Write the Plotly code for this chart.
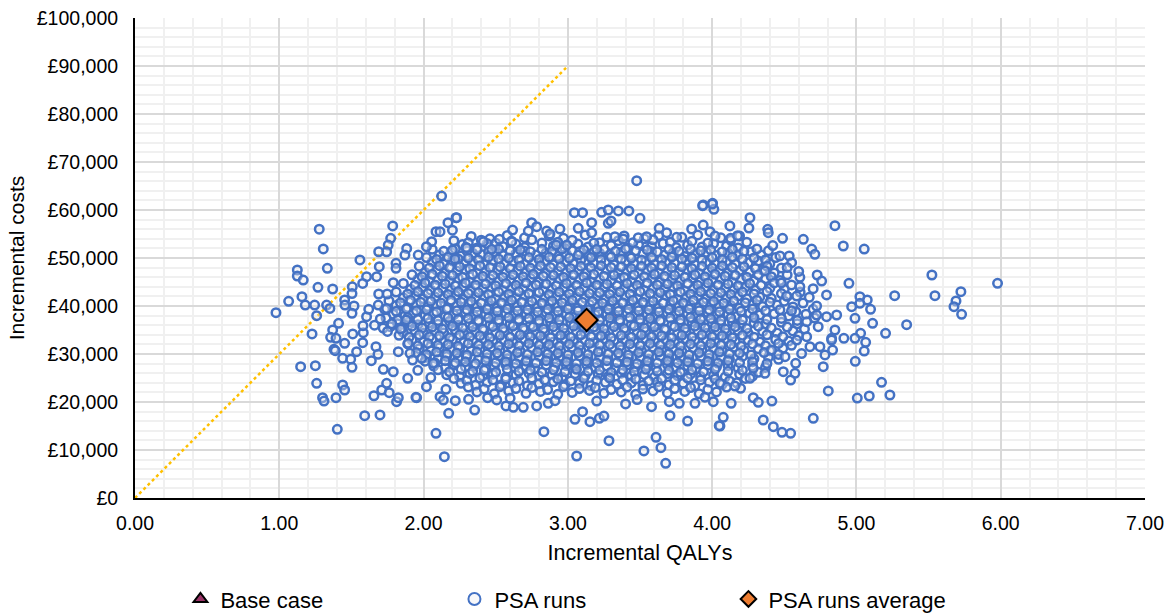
import plotly.graph_objects as go

# ---------------- data ----------------
base_case_qaly = [3.31]
base_case_cost = [38000]

psa_avg_qaly = [3.13]
psa_avg_cost = [37100]

wtp_qaly = [0.0, 3.0]
wtp_cost = [0, 90000]

x_ticks = [0, 1, 2, 3, 4, 5, 6, 7]
x_tick_labels = ["0.00", "1.00", "2.00", "3.00", "4.00", "5.00", "6.00", "7.00"]
y_ticks = [0, 10000, 20000, 30000, 40000, 50000, 60000, 70000, 80000, 90000, 100000]
y_tick_labels = ["£0", "£10,000", "£20,000", "£30,000", "£40,000", "£50,000",
                 "£60,000", "£70,000", "£80,000", "£90,000", "£100,000"]

# dense centre of the PSA cloud (QALY, cost) pairs
psa_core = [
    (2.33,54500),(2.46,54000),(2.58,54700),(2.70,54200),(2.87,54600),(2.97,54100),(3.12,54800),(3.27,54300),
    (3.39,54600),(3.53,54000),(3.63,54700),(3.79,54300),(3.90,54800),(4.06,54200),(4.19,54600),
    (2.27,52800),(2.37,52100),(2.44,53000),(2.55,52400),(2.64,52900),(2.70,52200),(2.82,53100),(2.90,52500),
    (2.98,52000),(3.07,52900),(3.14,52300),(3.22,53200),(3.30,52600),(3.42,52100),(3.49,52800),(3.58,52400),
    (3.66,53000),(3.75,52200),(3.83,52700),(3.93,52300),(4.01,53000),(4.10,52500),(4.18,52100),
    (2.11,50600),(2.19,51200),(2.26,50400),(2.34,51000),(2.41,50700),(2.49,51300),(2.55,50500),(2.64,50900),
    (2.70,51400),(2.78,50600),(2.85,51100),(2.93,50300),(2.99,50800),(3.08,51300),(3.14,50500),(3.22,51000),
    (3.29,50700),(3.37,51200),(3.43,50400),(3.52,50900),(3.58,51300),(3.67,50600),(3.73,51100),(3.81,50300),
    (3.88,50800),(3.96,51200),(4.03,50500),(4.11,51000),(4.18,50700),(4.27,51300),(4.34,50600),
    (2.06,49200),(2.14,48700),(2.20,49400),(2.28,48900),(2.34,49100),(2.42,48600),(2.48,49500),(2.56,48800),
    (2.62,49300),(2.70,48700),(2.76,49000),(2.84,49400),(2.90,48600),(2.98,49200),(3.04,48800),(3.12,49500),
    (3.18,48900),(3.26,49100),(3.32,48600),(3.40,49300),(3.46,48800),(3.54,49400),(3.60,48700),(3.68,49200),
    (3.74,48900),(3.82,49500),(3.88,48600),(3.96,49100),(4.02,48800),(4.10,49300),(4.16,48700),(4.25,49000),
    (4.32,49400),(4.40,48800),
    (2.01,47000),(2.09,47500),(2.15,46900),(2.23,47300),(2.29,47600),(2.37,46800),(2.43,47200),(2.51,47500),
    (2.57,46900),(2.65,47400),(2.71,47000),(2.79,47600),(2.85,46800),(2.93,47300),(2.99,47000),(3.07,47500),
    (3.13,46900),(3.21,47200),(3.27,47600),(3.35,46800),(3.41,47400),(3.49,47000),(3.55,47500),(3.63,46900),
    (3.69,47300),(3.77,47000),(3.83,47600),(3.91,46800),(3.97,47200),(4.05,47500),(4.11,46900),(4.19,47400),
    (4.26,47100),(4.35,47500),(4.43,46900),
    (1.96,45600),(2.04,45100),(2.10,45500),(2.18,45200),(2.24,45800),(2.32,45000),(2.38,45400),(2.46,45700),
    (2.52,45100),(2.60,45500),(2.66,45300),(2.74,45800),(2.80,45000),(2.88,45400),(2.94,45700),(3.02,45200),
    (3.08,45600),(3.16,45000),(3.22,45500),(3.30,45300),(3.36,45800),(3.44,45100),(3.50,45400),(3.58,45700),
    (3.64,45000),(3.72,45500),(3.78,45200),(3.86,45800),(3.92,45100),(4.00,45400),(4.06,45600),(4.14,45000),
    (4.20,45500),(4.29,45200),(4.37,45700),(4.47,45300),
    (1.91,43500),(1.99,43900),(2.05,43300),(2.13,43700),(2.19,43400),(2.27,44000),(2.33,43200),(2.41,43600),
    (2.47,43900),(2.55,43300),(2.61,43700),(2.69,43500),(2.75,44000),(2.83,43200),(2.89,43600),(2.97,43800),
    (3.03,43300),(3.11,43700),(3.17,43400),(3.25,43900),(3.31,43200),(3.39,43600),(3.45,43800),(3.53,43300),
    (3.59,43700),(3.67,43500),(3.73,44000),(3.81,43200),(3.87,43600),(3.95,43900),(4.01,43300),(4.09,43700),
    (4.15,43400),(4.23,43900),(4.30,43300),(4.40,43700),(4.50,43500),
    (1.86,41700),(1.94,42100),(2.00,41500),(2.08,41900),(2.14,41600),(2.22,42200),(2.28,41400),(2.36,41800),
    (2.42,42100),(2.50,41500),(2.56,41900),(2.64,41700),(2.70,42200),(2.78,41400),(2.84,41800),(2.92,42000),
    (2.98,41500),(3.06,41900),(3.12,41600),(3.20,42100),(3.26,41400),(3.34,41800),(3.40,42000),(3.48,41500),
    (3.54,41900),(3.62,41700),(3.68,42200),(3.76,41400),(3.82,41800),(3.90,42100),(3.96,41500),(4.04,41900),
    (4.10,41600),(4.18,42100),(4.24,41500),(4.33,41900),(4.41,41600),(4.52,42000),
    (1.81,40100),(1.89,39700),(1.95,40300),(2.03,39900),(2.09,40200),(2.17,39600),(2.23,40000),(2.31,40400),
    (2.37,39800),(2.45,40100),(2.51,39600),(2.59,40300),(2.65,39900),(2.73,40200),(2.79,39700),(2.87,40400),
    (2.93,39800),(3.01,40100),(3.07,39600),(3.15,40300),(3.21,39900),(3.29,40200),(3.35,39700),(3.43,40400),
    (3.49,39800),(3.57,40100),(3.63,39600),(3.71,40300),(3.77,39900),(3.85,40200),(3.91,39700),(3.99,40400),
    (4.05,39800),(4.13,40100),(4.19,39600),(4.28,40300),(4.35,39900),(4.45,40200),(4.56,39800),
    (1.79,38300),(1.87,37900),(1.93,38500),(2.01,38000),(2.07,38400),(2.15,37800),(2.21,38200),(2.29,38600),
    (2.35,37900),(2.43,38300),(2.49,37800),(2.57,38500),(2.63,38100),(2.71,38400),(2.77,37900),(2.85,38600),
    (2.91,38000),(2.99,38300),(3.05,37800),(3.13,38500),(3.19,38100),(3.27,38400),(3.33,37900),(3.41,38600),
    (3.47,38000),(3.55,38300),(3.61,37800),(3.69,38500),(3.75,38100),(3.83,38400),(3.89,37900),(3.97,38600),
    (4.03,38000),(4.11,38300),(4.17,37800),(4.26,38500),(4.33,38100),(4.43,38400),(4.53,37900),(4.65,38300),
    (1.82,36300),(1.90,36700),(1.96,36100),(2.04,36500),(2.10,36200),(2.18,36800),(2.24,36000),(2.32,36400),
    (2.38,36700),(2.46,36100),(2.52,36500),(2.60,36300),(2.66,36800),(2.74,36000),(2.80,36400),(2.88,36600),
    (2.94,36100),(3.02,36500),(3.08,36200),(3.16,36700),(3.22,36000),(3.30,36400),(3.36,36600),(3.44,36100),
    (3.50,36500),(3.58,36300),(3.64,36800),(3.72,36000),(3.78,36400),(3.86,36700),(3.92,36100),(4.00,36500),
    (4.06,36200),(4.14,36700),(4.20,36100),(4.29,36500),(4.37,36200),(4.48,36600),(4.59,36300),
    (1.86,34500),(1.94,34900),(2.00,34300),(2.08,34700),(2.14,34400),(2.22,35000),(2.28,34200),(2.36,34600),
    (2.42,34900),(2.50,34300),(2.56,34700),(2.64,34500),(2.70,35000),(2.78,34200),(2.84,34600),(2.92,34800),
    (2.98,34300),(3.06,34700),(3.12,34400),(3.20,34900),(3.26,34200),(3.34,34600),(3.40,34800),(3.48,34300),
    (3.54,34700),(3.62,34500),(3.68,35000),(3.76,34200),(3.82,34600),(3.90,34900),(3.96,34300),(4.04,34700),
    (4.10,34400),(4.18,34900),(4.25,34300),(4.35,34700),(4.45,34400),(4.56,34800),
    (1.92,32900),(2.00,32500),(2.06,33100),(2.14,32700),(2.20,33000),(2.28,32400),(2.34,32800),(2.42,33200),
    (2.48,32600),(2.56,32900),(2.62,32400),(2.70,33100),(2.76,32700),(2.84,33000),(2.90,32500),(2.98,33200),
    (3.04,32600),(3.12,32900),(3.18,32400),(3.26,33100),(3.32,32700),(3.40,33000),(3.46,32500),(3.54,33200),
    (3.60,32600),(3.68,32900),(3.74,32400),(3.82,33100),(3.88,32700),(3.96,33000),(4.02,32500),(4.10,33200),
    (4.16,32600),(4.25,32900),(4.33,32500),(4.44,33000),(4.53,32700),
    (1.97,31100),(2.05,30700),(2.11,31300),(2.19,30900),(2.25,31200),(2.33,30600),(2.39,31000),(2.47,31400),
    (2.53,30800),(2.61,31100),(2.67,30600),(2.75,31300),(2.81,30900),(2.89,31200),(2.95,30700),(3.03,31400),
    (3.09,30800),(3.17,31100),(3.23,30600),(3.31,31300),(3.37,30900),(3.45,31200),(3.51,30700),(3.59,31400),
    (3.65,30800),(3.73,31100),(3.79,30600),(3.87,31300),(3.93,30900),(4.01,31200),(4.07,30700),(4.15,31400),
    (4.22,30800),(4.32,31100),(4.40,30700),(4.49,31200),
    (2.02,29300),(2.10,28900),(2.16,29500),(2.24,29100),(2.30,29400),(2.38,28800),(2.44,29200),(2.52,29600),
    (2.58,29000),(2.66,29300),(2.72,28800),(2.80,29500),(2.86,29100),(2.94,29400),(3.00,28900),(3.08,29600),
    (3.14,29000),(3.22,29300),(3.28,28800),(3.36,29500),(3.42,29100),(3.50,29400),(3.56,28900),(3.64,29600),
    (3.70,29000),(3.78,29300),(3.84,28800),(3.92,29500),(3.98,29100),(4.06,29400),(4.12,28900),(4.21,29500),
    (4.29,29000),(4.39,29300),(4.46,28900),
    (2.07,27500),(2.15,27100),(2.21,27700),(2.29,27300),(2.35,27600),(2.43,27000),(2.49,27400),(2.57,27800),
    (2.63,27200),(2.71,27500),(2.77,27000),(2.85,27700),(2.91,27300),(2.99,27600),(3.05,27100),(3.13,27800),
    (3.19,27200),(3.27,27500),(3.33,27000),(3.41,27700),(3.47,27300),(3.55,27600),(3.61,27100),(3.69,27800),
    (3.75,27200),(3.83,27500),(3.89,27000),(3.97,27700),(4.03,27300),(4.11,27600),(4.18,27100),(4.28,27500),
    (4.37,27200),
    (2.16,25700),(2.25,25300),(2.32,25900),(2.41,25400),(2.48,25800),(2.57,25200),(2.64,25600),(2.73,26000),
    (2.80,25400),(2.89,25700),(2.96,25200),(3.05,25900),(3.12,25500),(3.21,25800),(3.28,25300),(3.37,26000),
    (3.44,25400),(3.53,25700),(3.60,25200),(3.69,25900),(3.76,25500),(3.85,25800),(3.92,25300),(4.01,25600),
    (4.09,25200),(4.19,25800),(4.28,25400),
    (2.26,23900),(2.36,23500),(2.44,24100),(2.54,23600),(2.62,24000),(2.72,23400),(2.80,23800),(2.90,24200),
    (2.98,23600),(3.08,23900),(3.16,23400),(3.26,24100),(3.34,23700),(3.44,24000),(3.52,23500),(3.62,24200),
    (3.70,23600),(3.80,23900),(3.88,23400),(3.98,24100),(4.07,23700),(4.17,24000),
    (2.37,22100),(2.49,21700),(2.59,22300),(2.71,21800),(2.81,22200),(2.93,21600),(3.03,22000),(3.15,22400),
    (3.25,21800),(3.37,22100),(3.47,21600),(3.59,22300),(3.69,21900),(3.81,22200),(3.91,21700),(4.03,22100),
]

# more runs packed between the rows above (the centre is solid in the picture)
psa_core_fill = [
    (2.21,53600),(2.31,53200),(2.40,53700),(2.50,53100),(2.61,53500),(2.75,53800),(2.93,53300),(3.03,53700),
    (3.18,53100),(3.35,53600),(3.45,53200),(3.59,53800),(3.71,53300),(3.86,53500),(3.97,53100),(4.13,53700),
    (4.24,53300),
    (2.06,51800),(2.14,51400),(2.22,51900),(2.30,51500),(2.37,51700),(2.45,51300),(2.52,51900),(2.60,51500),
    (2.67,51700),(2.74,51300),(2.82,51800),(2.89,51400),(2.96,51900),(3.03,51500),(3.11,51700),(3.18,51300),
    (3.25,51800),(3.33,51400),(3.40,51900),(3.47,51500),(3.55,51700),(3.62,51300),(3.70,51800),(3.77,51400),
    (3.85,51900),(3.92,51500),(3.99,51700),(4.07,51300),(4.14,51800),(4.22,51400),(4.31,51900),(4.39,51500),
    (2.02,50100),(2.09,49700),(2.17,50200),(2.24,49800),(2.31,50000),(2.38,49600),(2.45,50200),(2.52,49800),
    (2.59,50000),(2.66,49600),(2.73,50100),(2.80,49700),(2.87,50200),(2.94,49800),(3.01,50000),(3.09,49600),
    (3.16,50100),(3.23,49700),(3.30,50200),(3.37,49800),(3.44,50000),(3.51,49600),(3.58,50100),(3.65,49700),
    (3.72,50200),(3.79,49800),(3.86,50000),(3.93,49600),(4.00,50100),(4.07,49700),(4.14,50200),(4.21,49800),
    (4.29,50000),(4.37,49600),(4.44,50100),
    (1.97,48300),(2.04,47900),(2.11,48400),(2.18,48000),(2.25,48200),(2.32,47800),(2.39,48400),(2.46,48000),
    (2.53,48200),(2.60,47800),(2.67,48300),(2.74,47900),(2.81,48400),(2.88,48000),(2.95,48200),(3.02,47800),
    (3.09,48300),(3.16,47900),(3.23,48400),(3.30,48000),(3.37,48200),(3.44,47800),(3.51,48300),(3.58,47900),
    (3.65,48400),(3.72,48000),(3.79,48200),(3.86,47800),(3.93,48300),(4.00,47900),(4.07,48400),(4.14,48000),
    (4.22,48200),(4.30,47800),(4.38,48300),(4.48,47900),
    (1.92,46500),(1.99,46100),(2.06,46600),(2.13,46200),(2.20,46400),(2.27,46000),(2.34,46600),(2.41,46200),
    (2.48,46400),(2.55,46000),(2.62,46500),(2.69,46100),(2.76,46600),(2.83,46200),(2.90,46400),(2.97,46000),
    (3.04,46500),(3.11,46100),(3.18,46600),(3.25,46200),(3.32,46400),(3.39,46000),(3.46,46500),(3.53,46100),
    (3.60,46600),(3.67,46200),(3.74,46400),(3.81,46000),(3.88,46500),(3.95,46100),(4.02,46600),(4.09,46200),
    (4.16,46400),(4.24,46000),(4.32,46500),(4.41,46100),(4.52,46500),
    (1.86,44700),(1.94,44300),(2.01,44800),(2.08,44400),(2.15,44600),(2.22,44200),(2.29,44800),(2.36,44400),
    (2.43,44600),(2.50,44200),(2.57,44700),(2.64,44300),(2.71,44800),(2.78,44400),(2.85,44600),(2.92,44200),
    (2.99,44700),(3.06,44300),(3.13,44800),(3.20,44400),(3.27,44600),(3.34,44200),(3.41,44700),(3.48,44300),
    (3.55,44800),(3.62,44400),(3.69,44600),(3.76,44200),(3.83,44700),(3.90,44300),(3.97,44800),(4.04,44400),
    (4.11,44600),(4.18,44200),(4.26,44700),(4.34,44300),(4.43,44800),(4.55,44400),
    (1.81,42900),(1.89,42500),(1.96,43000),(2.03,42600),(2.10,42800),(2.17,42400),(2.24,43000),(2.31,42600),
    (2.38,42800),(2.45,42400),(2.52,42900),(2.59,42500),(2.66,43000),(2.73,42600),(2.80,42800),(2.87,42400),
    (2.94,42900),(3.01,42500),(3.08,43000),(3.15,42600),(3.22,42800),(3.29,42400),(3.36,42900),(3.43,42500),
    (3.50,43000),(3.57,42600),(3.64,42800),(3.71,42400),(3.78,42900),(3.85,42500),(3.92,43000),(3.99,42600),
    (4.06,42800),(4.13,42400),(4.21,42900),(4.29,42500),(4.38,43000),(4.48,42600),(4.61,42900),
    (1.76,41100),(1.84,40700),(1.91,41200),(1.98,40800),(2.05,41000),(2.12,40600),(2.19,41200),(2.26,40800),
    (2.33,41000),(2.40,40600),(2.47,41100),(2.54,40700),(2.61,41200),(2.68,40800),(2.75,41000),(2.82,40600),
    (2.89,41100),(2.96,40700),(3.03,41200),(3.10,40800),(3.17,41000),(3.24,40600),(3.31,41100),(3.38,40700),
    (3.45,41200),(3.52,40800),(3.59,41000),(3.66,40600),(3.73,41100),(3.80,40700),(3.87,41200),(3.94,40800),
    (4.01,41000),(4.08,40600),(4.15,41100),(4.23,40700),(4.31,41200),(4.40,40800),(4.50,41000),(4.63,40600),
    (1.73,39300),(1.81,38900),(1.88,39400),(1.95,39000),(2.02,39200),(2.09,38800),(2.16,39400),(2.23,39000),
    (2.30,39200),(2.37,38800),(2.44,39300),(2.51,38900),(2.58,39400),(2.65,39000),(2.72,39200),(2.79,38800),
    (2.86,39300),(2.93,38900),(3.00,39400),(3.07,39000),(3.14,39200),(3.21,38800),(3.28,39300),(3.35,38900),
    (3.42,39400),(3.49,39000),(3.56,39200),(3.63,38800),(3.70,39300),(3.77,38900),(3.84,39400),(3.91,39000),
    (3.98,39200),(4.05,38800),(4.12,39300),(4.20,38900),(4.28,39400),(4.37,39000),(4.47,39200),(4.58,38800),
    (4.70,39300),
    (1.74,37500),(1.82,37100),(1.89,37600),(1.96,37200),(2.03,37400),(2.10,37000),(2.17,37600),(2.24,37200),
    (2.31,37400),(2.38,37000),(2.45,37500),(2.52,37100),(2.59,37600),(2.66,37200),(2.73,37400),(2.80,37000),
    (2.87,37500),(2.94,37100),(3.01,37600),(3.08,37200),(3.15,37400),(3.22,37000),(3.29,37500),(3.36,37100),
    (3.43,37600),(3.50,37200),(3.57,37400),(3.64,37000),(3.71,37500),(3.78,37100),(3.85,37600),(3.92,37200),
    (3.99,37400),(4.06,37000),(4.13,37500),(4.21,37100),(4.29,37600),(4.38,37200),(4.48,37400),(4.59,37000),
    (4.71,37500),
    (1.77,35700),(1.85,35300),(1.92,35800),(1.99,35400),(2.06,35600),(2.13,35200),(2.20,35800),(2.27,35400),
    (2.34,35600),(2.41,35200),(2.48,35700),(2.55,35300),(2.62,35800),(2.69,35400),(2.76,35600),(2.83,35200),
    (2.90,35700),(2.97,35300),(3.04,35800),(3.11,35400),(3.18,35600),(3.25,35200),(3.32,35700),(3.39,35300),
    (3.46,35800),(3.53,35400),(3.60,35600),(3.67,35200),(3.74,35700),(3.81,35300),(3.88,35800),(3.95,35400),
    (4.02,35600),(4.09,35200),(4.16,35700),(4.24,35300),(4.32,35800),(4.41,35400),(4.52,35600),(4.64,35200),
    (1.83,33900),(1.90,33500),(1.97,34000),(2.04,33600),(2.11,33800),(2.18,33400),(2.25,34000),(2.32,33600),
    (2.39,33800),(2.46,33400),(2.53,33900),(2.60,33500),(2.67,34000),(2.74,33600),(2.81,33800),(2.88,33400),
    (2.95,33900),(3.02,33500),(3.09,34000),(3.16,33600),(3.23,33800),(3.30,33400),(3.37,33900),(3.44,33500),
    (3.51,34000),(3.58,33600),(3.65,33800),(3.72,33400),(3.79,33900),(3.86,33500),(3.93,34000),(4.00,33600),
    (4.07,33800),(4.14,33400),(4.21,33900),(4.29,33500),(4.38,34000),(4.49,33600),(4.60,33800),
    (1.89,32100),(1.96,31700),(2.03,32200),(2.10,31800),(2.17,32000),(2.24,31600),(2.31,32200),(2.38,31800),
    (2.45,32000),(2.52,31600),(2.59,32100),(2.66,31700),(2.73,32200),(2.80,31800),(2.87,32000),(2.94,31600),
    (3.01,32100),(3.08,31700),(3.15,32200),(3.22,31800),(3.29,32000),(3.36,31600),(3.43,32100),(3.50,31700),
    (3.57,32200),(3.64,31800),(3.71,32000),(3.78,31600),(3.85,32100),(3.92,31700),(3.99,32200),(4.06,31800),
    (4.13,32000),(4.20,31600),(4.28,32100),(4.37,31700),(4.46,32200),(4.55,31800),
    (1.95,30300),(2.02,29900),(2.09,30400),(2.16,30000),(2.23,30200),(2.30,29800),(2.37,30400),(2.44,30000),
    (2.51,30200),(2.58,29800),(2.65,30300),(2.72,29900),(2.79,30400),(2.86,30000),(2.93,30200),(3.00,29800),
    (3.07,30300),(3.14,29900),(3.21,30400),(3.28,30000),(3.35,30200),(3.42,29800),(3.49,30300),(3.56,29900),
    (3.63,30400),(3.70,30000),(3.77,30200),(3.84,29800),(3.91,30300),(3.98,29900),(4.05,30400),(4.12,30000),
    (4.19,30200),(4.27,29800),(4.36,30300),(4.46,29900),
    (2.01,28500),(2.08,28100),(2.15,28600),(2.22,28200),(2.29,28400),(2.36,28000),(2.43,28600),(2.50,28200),
    (2.57,28400),(2.64,28000),(2.71,28500),(2.78,28100),(2.85,28600),(2.92,28200),(2.99,28400),(3.06,28000),
    (3.13,28500),(3.20,28100),(3.27,28600),(3.34,28200),(3.41,28400),(3.48,28000),(3.55,28500),(3.62,28100),
    (3.69,28600),(3.76,28200),(3.83,28400),(3.90,28000),(3.97,28500),(4.04,28100),(4.11,28600),(4.19,28200),
    (4.28,28400),(4.38,28000),
    (2.10,26700),(2.18,26300),(2.26,26800),(2.34,26400),(2.42,26600),(2.50,26200),(2.58,26800),(2.66,26400),
    (2.74,26600),(2.82,26200),(2.90,26700),(2.98,26300),(3.06,26800),(3.14,26400),(3.22,26600),(3.30,26200),
    (3.38,26700),(3.46,26300),(3.54,26800),(3.62,26400),(3.70,26600),(3.78,26200),(3.86,26700),(3.94,26300),
    (4.02,26800),(4.11,26400),(4.21,26600),(4.32,26200),
    (2.21,24900),(2.30,24500),(2.39,25000),(2.48,24600),(2.57,24800),(2.66,24400),(2.75,25000),(2.84,24600),
    (2.93,24800),(3.02,24400),(3.11,24900),(3.20,24500),(3.29,25000),(3.38,24600),(3.47,24800),(3.56,24400),
    (3.65,24900),(3.74,24500),(3.83,25000),(3.92,24600),(4.02,24800),(4.12,24400),(4.23,24900),
    (2.31,23100),(2.42,22700),(2.53,23200),(2.64,22800),(2.75,23000),(2.86,22600),(2.97,23200),(3.08,22800),
    (3.19,23000),(3.30,22600),(3.41,23100),(3.52,22700),(3.63,23200),(3.74,22800),(3.85,23000),(3.97,22600),
    (4.10,23100),
]

# scattered runs on the left of the cloud
psa_left = [
    (2.125,62900),(1.277,56000),(1.305,51900),(1.333,47850),(1.125,47500),(1.125,46250),(1.166,45400),
    (1.268,43900),(1.37,43540),(1.065,40970),(0.977,38600),(1.157,41940),(1.18,40200),(1.245,40200),
    (1.259,37980),(1.227,34170),(1.328,40200),(1.351,39500),(1.148,27360),(1.25,27570),(1.259,23900),
    (1.30,20900),(1.31,20200),(1.393,20900),(1.439,23540),(1.453,22500),(1.402,14300),(1.592,17150),
    (1.698,17300),(2.086,13480),(2.144,8600),(2.174,17640),(2.354,18330),(1.559,49600),(1.786,56670),
    (1.772,54100),(1.755,52700),(1.744,51300),(1.689,51300),(1.693,48200),(2.225,58400),(2.169,57350),
    (2.20,55800),(2.086,55480),(2.114,55480),(2.056,53400),(2.02,52360),(1.883,52000),(1.871,50600),
    (1.963,50600),(2.20,51660),(2.294,52200),(1.809,48900),(1.809,47850),(1.605,46100),(1.675,46100),
    (1.578,44700),(1.79,44860),(1.506,44000),(1.504,42600),(1.453,41250),(1.518,40000),(1.504,38470),
    (1.455,40200),(1.689,42500),(1.748,42500),(1.686,40200),(1.744,39500),(1.411,36400),(1.37,35000),
    (1.356,33470),(1.393,33270),(1.379,30980),(1.388,30700),(1.509,34170),(1.453,32230),(1.439,29100),
    (1.495,28900),(1.504,27230),(1.536,30480),(1.578,32360),(1.582,34440),(1.605,37780),(1.638,28600),
    (1.67,31520),(1.684,29930),(1.721,26800),(1.656,21300),(1.71,22500),(1.744,23900),(1.762,21950),
    (1.79,26300),(1.813,20070),(1.825,20900),(1.952,20900),(2.02,23200),(1.89,24930),(2.114,21100),
    (2.137,20400),(2.22,20270),(2.312,20560),(2.155,22640),(1.906,30150),(1.924,28750),(1.987,29100),
    (2.067,28060),(1.825,30480),(1.894,32230),(1.66,36000),(1.72,35400),(1.78,36300),(1.84,35200),
    (1.88,37100),(1.70,37300),(1.75,34700),(1.62,39300),(1.58,35900),(1.96,26600),(2.05,25100),
]

# scattered runs on the right of the cloud
psa_right = [
    (4.851,56730),(4.909,52500),(5.054,51870),(5.523,46460),(5.978,44730),(5.544,42150),(5.724,42980),
    (5.69,41040),(5.676,39860),(5.729,38270),(5.265,42150),(5.348,36100),(5.202,34300),(5.174,24100),
    (5.232,21460),(5.089,21250),(5.006,20830),(4.805,22300),(4.701,16600),(4.544,13480),(4.484,13690),
    (4.424,14860),(4.354,16250),(4.054,15000),(4.077,16800),(4.414,20200),(4.285,20900),(4.32,19930),
    (4.132,19720),(4.008,20070),(4.992,28470),(4.77,27360),(4.782,29800),(4.835,30830),(4.828,33270),
    (4.747,31520),(5.054,30620),(5.064,32430),(5.029,34300),(4.99,33270),(4.913,33270),(4.99,37430),
    (5.112,36400),(5.098,39300),(5.075,41250),(5.024,41940),(5.024,40560),(4.967,39860),(4.948,44730),
    (4.793,42300),(4.728,46460),(4.759,45200),(4.632,53900),(4.69,51870),(4.712,50770),(4.262,58400),
    (4.255,56250),(4.385,55970),(4.389,55270),(4.488,54100),(4.003,61400),(4.012,60150),(3.938,61040),
    (4.123,56670),(4.128,54100),(4.176,54650),(4.534,50420),(4.551,49020),(4.47,50420),(4.366,47300),
    (4.608,45980),(4.608,44020),(4.673,41810),(4.586,42080),(4.516,42080),(4.724,40000),(4.863,38125),
    (4.793,37770),(4.724,38125),(4.655,36730),(4.851,35000),(4.828,32900),(4.735,35690),(4.655,33600),
    (4.586,32900),(4.678,31520),(4.579,28060),(4.574,25970),(4.544,24580),(4.493,26320),(4.412,30830),
    (4.505,29440),(4.366,25970),(4.285,27020),(4.262,24930),(4.197,22850),(4.158,23330),(4.054,23900),
    (4.52,48000),(4.60,47200),(4.48,44800),(4.70,43600),(4.42,52600),(4.55,39000),(4.62,30100),
]

# scattered runs above the cloud
psa_top = [
    (3.477,66100),(3.045,59440),(3.102,59440),(3.234,59520),(3.28,60000),(3.35,59800),(3.423,59800),
    (3.50,58270),(3.934,60900),(4.001,61250),(2.749,57350),(2.617,55830),(2.525,53900),(2.726,55620),
    (2.784,56520),(2.853,55620),(2.876,55000),(2.945,56040),(3.165,57350),(3.165,55270),(3.072,56190),
    (3.28,57230),(3.299,57710),(3.633,56190),(3.685,55270),(3.754,54310),(3.858,56040),(3.938,56870),
    (3.985,55480),(4.02,54580),(2.299,52150),(2.218,49790),(2.414,53400),(2.472,51800),(2.611,53400),
    (2.918,52700),(2.992,52700),(3.072,50600),(3.20,51800),(3.326,54440),(3.384,53960),(3.488,54230),
    (3.546,54440),(2.229,58400),
]

# scattered runs below the cloud
psa_bottom = [
    (2.834,13820),(3.061,8750),(3.285,11940),(3.527,9800),(3.611,12640),(3.645,10480),(3.678,7230),
    (3.708,17150),(3.83,16040),(4.049,15060),(3.049,16400),(3.153,15900),(3.218,16600),(3.25,17080),
    (3.102,17980),(3.58,19020),(3.703,20070),(3.772,19720),(3.881,19720),(1.947,20970),(2.444,20900),
    (2.507,20420),(2.571,19170),(2.622,18900),(2.691,18900),(2.784,19170),(2.864,19720),(2.911,20270),
    (3.40,19600),(3.48,20500),(3.95,21000),(2.60,20800),(3.20,20200),
]

psa_runs = psa_core + psa_core_fill + psa_left + psa_right + psa_top + psa_bottom
psa_qaly = [p[0] for p in psa_runs]
psa_cost = [p[1] for p in psa_runs]

# ---------------- styling ----------------
FONT = "Arial, Liberation Sans, sans-serif"
TXT = "#000000"

fig = go.Figure()

fig.add_trace(go.Scatter(
    x=wtp_qaly, y=wtp_cost, mode="lines", showlegend=False, hoverinfo="skip",
    line=dict(color="#FFC000", width=2.5, dash="dot"),
))

fig.add_trace(go.Scatter(
    x=base_case_qaly, y=base_case_cost, mode="markers", name="Base case",
    marker=dict(symbol="triangle-up", size=9, color="#993366",
                line=dict(color="#000000", width=1.5)),
))

fig.add_trace(go.Scatter(
    x=psa_qaly, y=psa_cost, mode="markers", name="PSA runs",
    marker=dict(symbol="circle", size=8.5, color="rgba(236,236,242,0.35)",
                line=dict(color="#4472C4", width=2.5)),
))

fig.add_trace(go.Scatter(
    x=psa_avg_qaly, y=psa_avg_cost, mode="markers", name="PSA runs average",
    marker=dict(symbol="diamond", size=17, color="#ED7D31",
                line=dict(color="#000000", width=2)),
))

fig.update_layout(
    width=1174, height=614,
    margin=dict(l=135, r=29, t=18, b=116, autoexpand=False),
    paper_bgcolor="white", plot_bgcolor="white",
    font=dict(family=FONT, size=18, color=TXT),
    legend=dict(
        orientation="h", x=0.045, y=-0.167, xanchor="left", yanchor="top",
        entrywidth=229, entrywidthmode="pixels", itemwidth=30, itemsizing="constant",
        font=dict(size=22, color=TXT), traceorder="normal",
    ),
    xaxis=dict(
        range=[0, 7], tickvals=x_ticks, ticktext=x_tick_labels, automargin=False,
        showgrid=True, gridcolor="#D9D9D9", gridwidth=1.5,
        minor=dict(dtick=0.2, showgrid=True, gridcolor="#F0F0F0", gridwidth=1.5),
        showline=True, linecolor="#000000", linewidth=2,
        zeroline=False, ticks="", ticklabelstandoff=7,
        tickfont=dict(size=19.5),
        title=dict(text="Incremental QALYs", font=dict(size=21.5), standoff=12),
    ),
    yaxis=dict(
        range=[0, 100000], tickvals=y_ticks, ticktext=y_tick_labels, automargin=False,
        showgrid=True, gridcolor="#D9D9D9", gridwidth=1.5,
        minor=dict(dtick=2000, showgrid=True, gridcolor="#F0F0F0", gridwidth=1.5),
        showline=True, linecolor="#000000", linewidth=2,
        zeroline=False, ticks="", ticklabelstandoff=11,
        tickfont=dict(size=19.5),
        title=dict(text="Incremental costs", font=dict(size=21), standoff=6),
    ),
)

fig.write_html("out.html")
